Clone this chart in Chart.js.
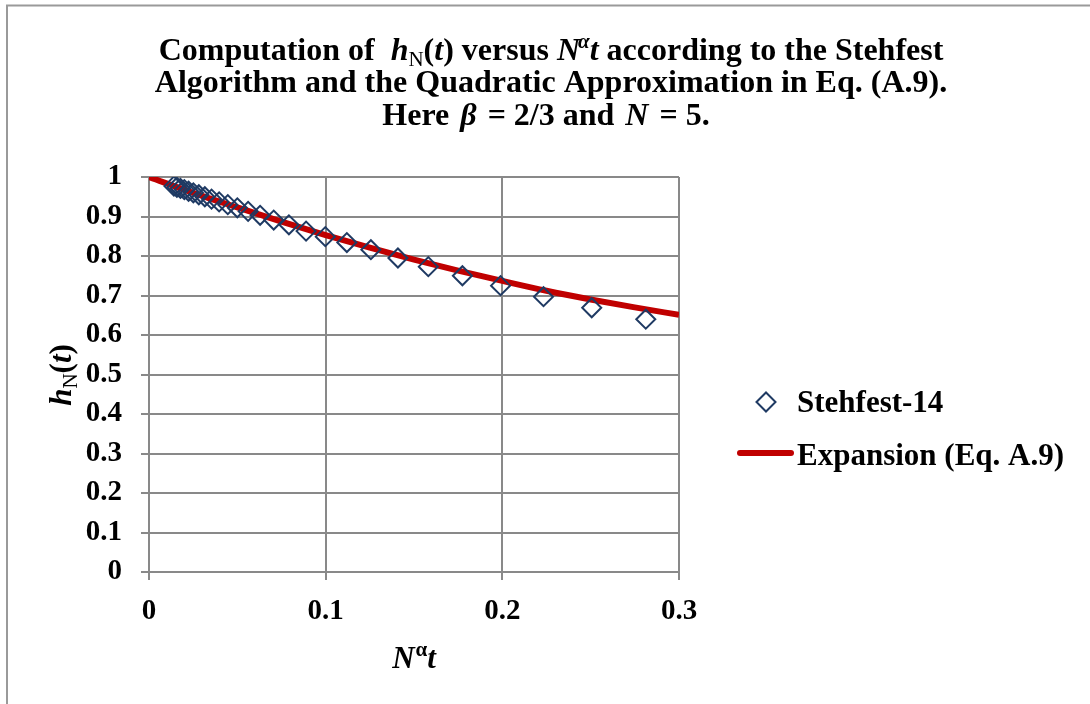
<!DOCTYPE html>
<html><head><meta charset="utf-8">
<style>html,body{margin:0;padding:0;background:#fff;} #wrap{width:1090px;height:704px;position:relative;}</style>
<script src="https://cdn.jsdelivr.net/npm/chart.js@4/dist/chart.umd.min.js"></script>
</head><body><div id="wrap"><canvas id="c" width="1090" height="704"></canvas></div>
<script>
const stehfestX = [0.0141,0.0158,0.0178,0.0200,0.0224,0.0251,0.0282,0.0316,0.0354,0.0397,0.0446,0.0500,0.0561,0.0629,0.0706,0.0792,0.0889,0.0998,0.1120,0.1256,0.1409,0.1581,0.1774,0.1990,0.2233,0.2506,0.2812];
const stehfestY = [0.977,0.974,0.971,0.968,0.964,0.960,0.955,0.950,0.944,0.937,0.930,0.922,0.913,0.903,0.891,0.879,0.863,0.849,0.834,0.816,0.795,0.773,0.750,0.725,0.697,0.669,0.640];
const expansionX = [0,0.025,0.05,0.075,0.1,0.125,0.15,0.175,0.2,0.225,0.25,0.275,0.3];
const expansionY = [1,0.960,0.923,0.887,0.853,0.821,0.791,0.763,0.737,0.712,0.690,0.670,0.651];
const xTickLabels = ['0','0.1','0.2','0.3'];
const yTickLabels = ['0','0.1','0.2','0.3','0.4','0.5','0.6','0.7','0.8','0.9','1'];
const seriesNames = ['Stehfest-14','Expansion (Eq. A.9)'];

const SERIF = '"Liberation Serif", "Times New Roman", serif';
const GRID = '#898989';
const NAVY = '#1F3A63';
const RED = '#C00000';

function drawRich(ctx, segs, x, y, align) {
  let total = 0;
  segs.forEach(s => { ctx.font = s.f; s.w = ctx.measureText(s.t).width + (s.k || 0); total += s.w; });
  let cx = align === 'center' ? x - total / 2 : x;
  ctx.textBaseline = 'alphabetic';
  ctx.textAlign = 'left';
  segs.forEach(s => { ctx.font = s.f; ctx.fillText(s.t, cx, y + (s.dy || 0)); cx += s.w; });
}

const B = (px) => 'bold ' + px + 'px ' + SERIF;
const BI = (px) => 'italic bold ' + px + 'px ' + SERIF;
const R = (px) => px + 'px ' + SERIF;

const decor = {
  id: 'decor',
  beforeDraw(chart) {
    const ctx = chart.ctx;
    ctx.save();
    ctx.strokeStyle = '#9a9a9a';
    ctx.lineWidth = 2;
    ctx.strokeRect(7, 5.5, 1100, 720);
    ctx.restore();
  },
  afterDraw(chart) {
    const ctx = chart.ctx;
    ctx.save();
    ctx.fillStyle = '#000';
    const T = 32, S = 21;
    drawRich(ctx, [
      {t: 'Computation of  ', f: B(T)},
      {t: 'h', f: BI(T)},
      {t: 'N', f: R(S), dy: 6},
      {t: '(', f: B(T)}, {t: 't', f: BI(T)}, {t: ') versus ', f: B(T)},
      {t: 'N', f: BI(T), k: -2}, {t: 'α', f: BI(S), dy: -12},
      {t: 't', f: BI(T)}, {t: ' according to the Stehfest', f: B(T)}
    ], 551, 60, 'center');
    drawRich(ctx, [{t: 'Algorithm and the Quadratic Approximation in Eq. (A.9).', f: B(T)}], 551, 92, 'center');
    drawRich(ctx, [
      {t: 'Here ', f: B(T), k: 3}, {t: 'β', f: BI(T), k: 3}, {t: ' = 2/3 and ', f: B(T), k: 3},
      {t: 'N', f: BI(T), k: 3}, {t: ' = 5.', f: B(T)}
    ], 546, 125, 'center');
    // x-axis title
    const ca = chart.chartArea;
    drawRich(ctx, [
      {t: 'N', f: BI(31), k: 1}, {t: 'α', f: B(21), dy: -12}, {t: 't', f: BI(31)}
    ], (ca.left + ca.right) / 2, 668, 'center');
    // y-axis title
    ctx.save();
    ctx.translate(71, 375);
    ctx.rotate(-Math.PI / 2);
    drawRich(ctx, [
      {t: 'h', f: BI(31)}, {t: 'N', f: R(21), dy: 6}, {t: '(', f: B(31)}, {t: 't', f: BI(31)}, {t: ')', f: B(31)}
    ], 0, 0, 'center');
    ctx.restore();
    // legend
    const d0 = chart.data.datasets[0], d1 = chart.data.datasets[1];
    ctx.fillStyle = 'rgba(0,0,0,0)';
    ctx.strokeStyle = d0.borderColor;
    ctx.lineWidth = 2;
    Chart.helpers.drawPoint(ctx, {pointStyle: 'rectRot', radius: 9.5, rotation: 0, borderWidth: 2}, 766, 402);
    ctx.beginPath();
    ctx.strokeStyle = d1.borderColor;
    ctx.lineWidth = 6;
    ctx.lineCap = 'round';
    ctx.moveTo(740, 453); ctx.lineTo(791, 453);
    ctx.stroke();
    ctx.fillStyle = '#000';
    drawRich(ctx, [{t: seriesNames[0], f: B(31)}], 797, 412, 'left');
    drawRich(ctx, [{t: seriesNames[1], f: B(31)}], 797, 465, 'left');
    ctx.restore();
  }
};

new Chart(document.getElementById('c'), {
  type: 'scatter',
  data: {
    datasets: [
      {
        label: seriesNames[0],
        data: stehfestX.map((x, i) => ({x: x, y: stehfestY[i]})),
        pointStyle: 'rectRot', pointRadius: 9.5, pointBorderWidth: 2,
        borderColor: NAVY, backgroundColor: 'rgba(0,0,0,0)', borderWidth: 2,
        showLine: false, order: 1
      },
      {
        label: seriesNames[1],
        data: expansionX.map((x, i) => ({x: x, y: expansionY[i]})),
        showLine: true, borderColor: RED, borderWidth: 6, pointRadius: 0,
        tension: 0.4, cubicInterpolationMode: 'monotone', order: 2
      }
    ]
  },
  options: {
    responsive: false, animation: false, devicePixelRatio: 1,
    layout: {padding: {left: 0, top: 177, right: 411, bottom: 0}},
    plugins: {legend: {display: false}, title: {display: false}, tooltip: {enabled: false}},
    scales: {
      x: {
        type: 'linear', min: 0, max: 0.3,
        afterFit: s => { s.height = 132; },
        ticks: {stepSize: 0.1, callback: (v, i) => xTickLabels[i], color: '#000', font: {family: SERIF, size: 29, weight: 'bold'}, padding: 14, maxRotation: 0},
        grid: {color: GRID, lineWidth: 2, tickLength: 8, drawTicks: true},
        border: {color: GRID, width: 2}
      },
      y: {
        type: 'linear', min: 0, max: 1,
        afterFit: s => { s.width = 149; },
        ticks: {stepSize: 0.1, callback: (v, i) => yTickLabels[i], color: '#000', font: {family: SERIF, size: 29, weight: 'bold'}, padding: 19},
        grid: {color: GRID, lineWidth: 2, tickLength: 8, drawTicks: true},
        border: {color: GRID, width: 2}
      }
    }
  },
  plugins: [decor]
});
</script></body></html>
